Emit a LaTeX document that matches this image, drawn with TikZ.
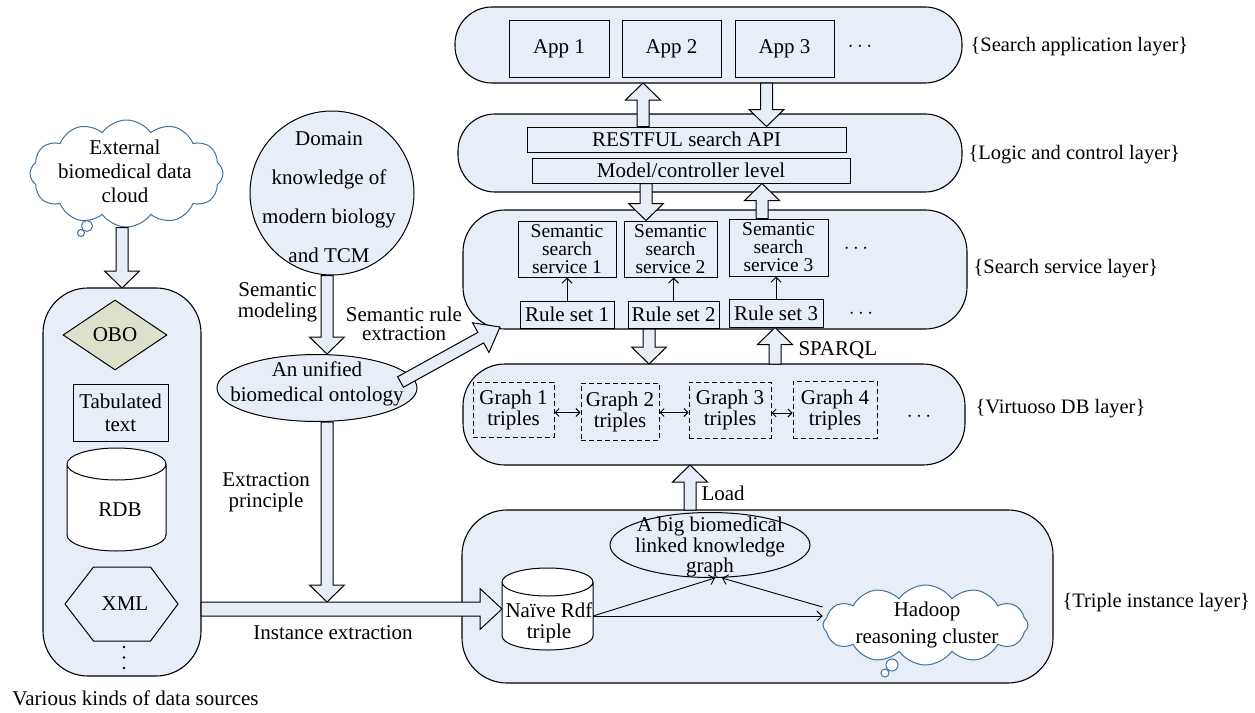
\documentclass[tikz,border=0pt]{standalone}
\usepackage{fontspec}
\setmainfont{Liberation Serif}
\usetikzlibrary{shapes.geometric,shapes.symbols,calc,arrows.meta}
\definecolor{lb}{RGB}{231,238,248}
\definecolor{cb}{RGB}{65,113,156}
\definecolor{og}{RGB}{221,224,203}
\newcommand\fs[1]{\fontsize{21}{#1}\selectfont}
\newcommand\fatarrowx[5]{%
 \coordinate (fa-h) at ($(#5)!#3!(#4)$);
 \draw[fatarr] ($(#4)!#1!90:(#5)$) -- ($(fa-h)!#1!90:(#5)$) -- ($(fa-h)!#2!90:(#5)$) -- (#5) -- ($(fa-h)!#2!-90:(#5)$) -- ($(fa-h)!#1!-90:(#5)$) -- ($(#4)!#1!-90:(#5)$) -- cycle;}
\newcommand\fatarrow[2]{\fatarrowx{6pt}{17.5pt}{17pt}{#1}{#2}}
\newcommand\cylpath[2]{%
 \draw[fill=white, line width=1pt] let \p1=(#1.north west), \p2=(#1.south east), \n1={(\x2-\x1)/2} in
  (\x1,\y1-#2) -- (\x1,\y2+#2) arc[start angle=180,end angle=360,x radius=\n1,y radius=#2] -- (\x2,\y1-#2) arc[start angle=0,end angle=180,x radius=\n1,y radius=#2] -- cycle
  (\x1,\y1-#2) arc[start angle=180,end angle=360,x radius=\n1,y radius=#2];}
\begin{document}
\begin{tikzpicture}[x=1pt,y=-1pt, font=\fs{21}, line width=1pt,
  layer/.style={draw, fill=lb, line width=1.1pt, inner sep=0pt, outer sep=0pt},
  box/.style={draw, fill=lb, inner sep=0pt, align=center},
  sbox/.style={draw, fill=lb, inner sep=0pt, align=center, font=\fontsize{19.5}{18}\selectfont},
  txt/.style={inner sep=0pt, align=center},
  lab/.style={inner sep=0pt, anchor=west, font=\fontsize{20.5}{21}\selectfont},
  fatarr/.style={draw, fill=lb, line width=1pt, line join=miter},
  thinarr/.style={-{Straight Barb[length=5pt,width=10pt]}, line width=0.9pt},
  dbl/.style={{Straight Barb[length=4pt,width=8pt]}-{Straight Barb[length=4pt,width=8pt]}, line width=0.9pt},
  cloudsh/.style={cloud, cloud puffs=12, cloud puff arc=110, cloud ignores aspect, draw=cb, fill=white, line width=1pt, inner sep=0pt},
  bub/.style={draw=cb, fill=white, line width=1pt}
]
\useasboundingbox (0,0) rectangle (1255,712);
\fill[white] (0,0) rectangle (1255,712);

% layers
\node[layer, rounded corners=37pt, minimum width=507pt, minimum height=76pt] (L1) at (708.5,45) {};
\node[layer, rounded corners=37pt, minimum width=504pt, minimum height=78pt] (L2) at (710,153) {};
\node[layer, rounded corners=42pt, minimum width=504pt, minimum height=119pt] (L3) at (715,269.5) {};
\node[layer, rounded corners=42pt, minimum width=502pt, minimum height=101pt] (L4) at (714,414.5) {};
\node[layer, rounded corners=45pt, minimum width=591pt, minimum height=173pt] (L5) at (757.5,596.5) {};
\node[layer, rounded corners=45pt, minimum width=158pt, minimum height=388pt] (data) at (122,482) {};

% layer labels
\node[lab] (lab1) at (970,47) {\{Search application layer\}};
\node[lab] (lab2) at (968,155) {\{Logic and control layer\}};
\node[lab] (lab3) at (973,269) {\{Search service layer\}};
\node[lab] (lab4) at (975,409) {\{Virtuoso DB layer\}};
\node[lab] (lab5) at (1062,603) {\{Triple instance layer\}};

% apps
\node[box, minimum width=100pt, minimum height=57pt] (app1) at (559,48.5) {App 1};
\node[box, minimum width=99pt, minimum height=57pt] (app2) at (671.5,48.5) {App 2};
\node[box, minimum width=99pt, minimum height=57pt] (app3) at (784.5,48.5) {App 3};
\node[txt] (dots1) at (860,47) {$\cdots$};

% logic
\node[box, minimum width=319pt, minimum height=25pt] (rest) at (686.5,139.5) {RESTFUL search API};
\node[box, minimum width=318pt, minimum height=25pt] (model) at (691,170.5) {Model/controller level};

% services
\node[sbox, minimum width=98pt, minimum height=56pt] (s1) at (567,249) {Semantic\\search\\service 1};
\node[sbox, minimum width=93pt, minimum height=56pt] (s2) at (670.5,249) {Semantic\\search\\service 2};
\node[sbox, minimum width=99pt, minimum height=57pt] (s3) at (778.5,247.5) {Semantic\\search\\service 3};
\node[txt] (dots2) at (856,249) {$\cdots$};
\node[box, minimum width=94pt, minimum height=27pt] (r1) at (567,314.5) {Rule set 1};
\node[box, minimum width=91pt, minimum height=27pt] (r2) at (673.5,314.5) {Rule set 2};
\node[box, minimum width=94pt, minimum height=28pt] (r3) at (776,313) {Rule set 3};
\node[txt] (dots3) at (861,314) {$\cdots$};
\draw[thinarr] (r1.north) -- (r1.north |- s1.south);
\draw[thinarr] (r2.north) -- (r2.north |- s2.south);
\draw[thinarr] (r3.north) -- (r3.north |- s3.south);

% virtuoso
\node[box, dash pattern=on 5pt off 3pt, minimum width=81pt, minimum height=55pt] (g1) at (513.5,409.5) {Graph 1\\triples};
\node[box, dash pattern=on 5pt off 3pt, minimum width=78pt, minimum height=57pt] (g2) at (620,411.5) {Graph 2\\triples};
\node[box, dash pattern=on 5pt off 3pt, minimum width=82pt, minimum height=56pt] (g3) at (730,410) {Graph 3\\triples};
\node[box, dash pattern=on 5pt off 3pt, minimum width=84pt, minimum height=57pt] (g4) at (835,409.5) {Graph 4\\triples};
\node[txt] (dots4) at (919,417) {$\cdots$};
\draw[dbl] ([yshift=-3pt]g1.east) -- ([yshift=-3pt]g1.east -| g2.west);
\draw[dbl] ([yshift=-1pt]g2.east) -- ([yshift=-1pt]g2.east -| g3.west);
\draw[dbl] ([yshift=-3pt]g3.east) -- ([yshift=-3pt]g3.east -| g4.west);

% triple instance layer
\node[draw, fill=lb, ellipse, minimum width=200pt, minimum height=65pt, inner sep=0pt] (kg) at (710,545) {};
\node[txt, font=\fs{18.5}] (kgt) at (710,547) {A big biomedical\\linked knowledge\\graph};
\node[minimum width=91pt, minimum height=82pt, inner sep=0pt, outer sep=0pt] (naive) at (547.5,609) {};
\cylpath{naive}{14pt}
\node[txt] (naivet) at (549,623) {Naïve Rdf\\triple};
\node[cloudsh, minimum width=205pt, minimum height=80pt] (had) at (925.5,625) {};
\draw[bub] (892,665) circle[radius=6pt];
\draw[bub] (885,673) circle[radius=4pt];
\node[txt, font=\fs{27}] (hadt) at (927,625) {Hadoop\\reasoning cluster};
\draw[thinarr] ([yshift=-7pt]naive.east) -- ([xshift=5pt]kg.south);
\draw[thinarr] ([yshift=-7pt]naive.east) -- ([yshift=-7pt]naive.east -| had.west);
\draw[thinarr] ([yshift=18pt]had.west) -- ([xshift=12pt]kg.south);

% data sources
\node[draw, fill=og, diamond, minimum width=104pt, minimum height=70pt, inner sep=0pt] (obo) at (115,335) {OBO};
\node[box, font=\fs{23}, minimum width=95pt, minimum height=57pt] (tab) at (120.5,412.5) {Tabulated\\text};
\node[minimum width=99pt, minimum height=103pt, inner sep=0pt, outer sep=0pt] (rdb) at (116.5,499.5) {};
\cylpath{rdb}{16pt}
\node[txt] (rdbt) at (120,510) {RDB};
\node[minimum width=113pt, minimum height=74pt, inner sep=0pt, outer sep=0pt] (xml) at (121.5,604) {};
\draw[fill=lb] (xml.west) -- ([xshift=-28pt]xml.north) -- ([xshift=29pt]xml.north) -- (xml.east) -- ([xshift=29pt]xml.south) -- ([xshift=-28pt]xml.south) -- cycle;
\node[txt] (xmlt) at (125,604) {XML};
\fill (124,647) circle[radius=1.4pt] (124,657.5) circle[radius=1.4pt] (124,668) circle[radius=1.4pt];
\node[txt, anchor=west] (various) at (12,698) {Various kinds of data sources};

% external cloud
\node[cloudsh, minimum width=193pt, minimum height=107pt] (ext) at (126.5,173.5) {};
\draw[bub] (87,226) circle[radius=5.5pt];
\draw[bub] (81,233) circle[radius=3.5pt];
\node[txt, font=\fs{24}] (extt) at (125,171) {External\\biomedical data\\cloud};

% domain and ontology
\node[draw, fill=lb, circle, minimum size=164pt, inner sep=0pt] (dom) at (332,193) {};
\node[txt, font=\fs{39}] (domt) at (329,197) {Domain\\knowledge of\\modern biology\\and TCM};
\node[draw, fill=lb, ellipse, minimum width=200pt, minimum height=67pt, inner sep=0pt] (onto) at (317,388) {};
\node[txt, font=\fs{25}] (ontot) at (317,384) {An unified\\biomedical ontology};

% labels
\node[txt] (semmod) at (277.5,302) {Semantic\\modeling};
\node[txt, font=\fs{19.5}] (semrule) at (404,324) {Semantic rule\\extraction};
\node[txt] (extpr) at (266,492) {Extraction\\principle};
\node[txt] (instex) at (333,633) {Instance extraction};
\node[txt, anchor=west] (load) at (701,493) {Load};
\node[txt, anchor=west] (sparql) at (798,350) {SPARQL};

% block arrows
\coordinate (a1s) at (ext.south -| data.north);
\fatarrow{a1s}{data.north}
\coordinate (a2s) at ($(rest.north)+(-43.5,0)$);
\coordinate (a2e) at (a2s |- L1.south);
\fatarrow{a2s}{a2e}
\coordinate (a3s) at ($(L1.south)+(58,0)$);
\coordinate (a3e) at (a3s |- rest.north);
\fatarrow{a3s}{a3e}
\coordinate (a4s) at ($(model.south)+(-45,0)$);
\coordinate (a4e) at (a4s |- s2.north);
\fatarrow{a4s}{a4e}
\coordinate (a5s) at ($(s3.north)+(-16.5,0)$);
\coordinate (a5e) at (a5s |- model.south);
\fatarrow{a5s}{a5e}
\coordinate (a6s) at ($(L3.south)+(-66,0)$);
\coordinate (a6e) at (a6s |- L4.north);
\fatarrow{a6s}{a6e}
\coordinate (a7s) at ($(L4.north)+(61,0)$);
\coordinate (a7e) at (a7s |- r3.south);
\fatarrow{a7s}{a7e}
\coordinate (a8s) at ($(L5.north)+(-67.5,0)$);
\coordinate (a8e) at (a8s |- L4.south);
\fatarrow{a8s}{a8e}
\coordinate (a9s) at ($(dom.south)+(-5,0)$);
\coordinate (a9e) at (a9s |- onto.north);
\fatarrow{a9s}{a9e}
\coordinate (a10s) at ($(onto.east)+(-17,-6)$);
\coordinate (a10e) at ($(L3.south west)+(37,-2)$);
\fatarrowx{6pt}{17pt}{22pt}{a10s}{a10e}
\coordinate (a11s) at (a9s |- onto.south);
\coordinate (a11e) at ($(a11s |- naive.west)+(0,-7)$);
\fatarrow{a11s}{a11e}
\coordinate (a12s) at (data.east |- naive.west);
\fatarrowx{7pt}{20.5pt}{22pt}{a12s}{naive.west}
\end{tikzpicture}
\end{document}
